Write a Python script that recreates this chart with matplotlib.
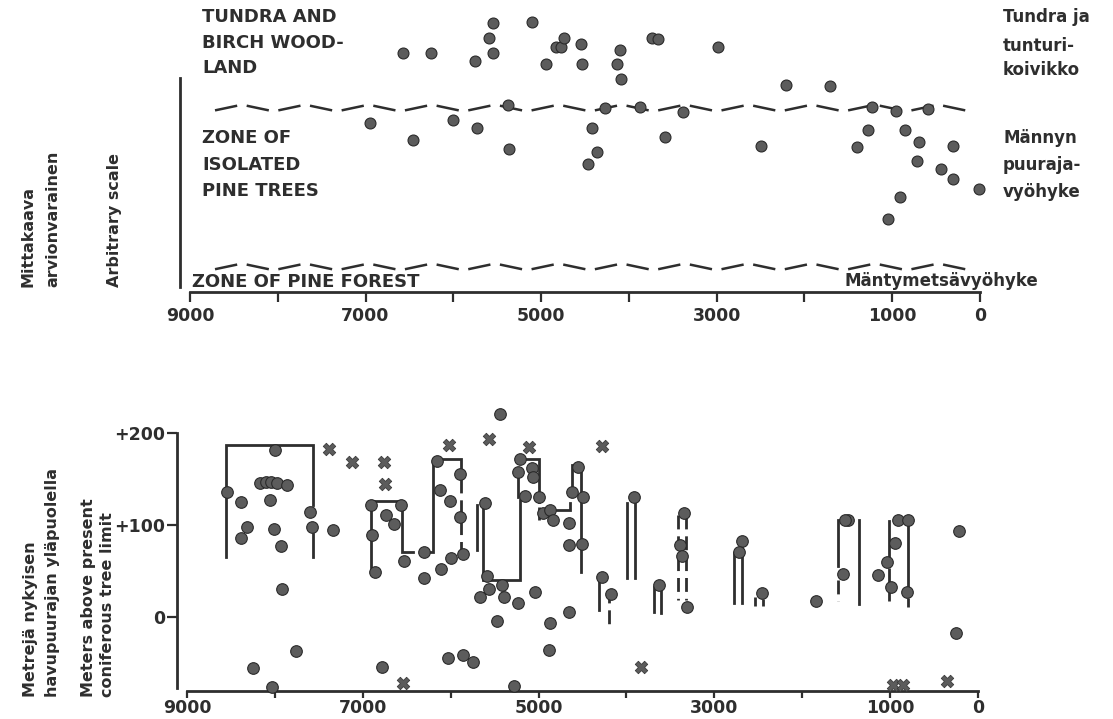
import matplotlib.pyplot as plt

W, H = 1113, 719

# ---- upper panel: samples placed on an arbitrary vegetation scale (0-100)
tundra_years = [6570, 6255, 5755, 5550, 5595, 5550, 5105, 4945, 4830, 4775, 4740,
                4545, 4535, 4100, 4135, 4090, 3735, 3670, 2985, 2210, 1710]
tundra_level = [82, 82, 79, 92, 87, 82, 92.5, 78, 84, 84, 87,
                85, 78, 83, 78, 73, 87, 86.5, 84, 71, 70.5]
pine_years = [6950, 6460, 6005, 5730, 5375, 5365, 4270, 3875, 3385, 4420, 4365,
              4465, 3590, 2495, 1230, 955, 595, 1275, 855, 1400, 695, 310,
              720, 445, 310, 910, 1050, 10]
pine_level = [58, 52, 59, 56, 64, 49, 63, 63.5, 61.5, 56, 48,
              44, 53, 50, 63.5, 62, 62.7, 55.5, 55.5, 49.7, 51.4, 50,
              45, 42, 38.7, 32.5, 25, 35.3]
zone_limits = [63, 8.6]

# ---- lower panel: metres above present coniferous tree limit
dot_years = [8550, 8390, 8315, 8380, 8245, 8170, 8100, 8045, 7975, 7865, 8000,
             8055, 8010, 7935, 7915, 8030, 7765, 7595, 7580, 7335, 6910, 6900,
             6860, 6785, 6740, 6645, 6565, 6530, 6305, 6305, 6160, 6120, 6010,
             5895, 5895, 6110, 5995, 5855, 6035, 5855, 5750, 5440, 5610, 5590,
             5560, 5665, 5420, 5395, 5230, 5040, 5475, 5285, 5210, 5230, 5080,
             5065, 5155, 4995, 4945, 4870, 4830, 4870, 4655, 4880, 4555, 4625,
             4500, 4650, 4650, 4510, 4275, 4175, 3910, 3630, 3345, 3390, 3370,
             3315, 2690, 2725, 2455, 1845, 1475, 1510, 1535, 1135, 1040, 945,
             990, 905, 795, 810, 215, 250]
dot_height = [136, 125, 98, 86, -55, 146, 147, 147, 146, 144, 182,
              127, 96, 77, 30, -76, -37, 114, 98, 95, 122, 89,
              49, -54, 111, 101, 122, 61, 42, 71, 170, 138, 126,
              156, 109, 52, 64, 69, -45, -41, -49, 221, 124, 45,
              31, 22, 35, 22, 15, 27, -4, -75, 172, 158, 162,
              152, 132, 130, 113, 116, 106, -7, 6, -36, 163, 136,
              131, 102, 78, 79, 44, 25, 131, 35, 113, 78, 66,
              11, 83, 71, 26, 17, 105, 105, 47, 46, 60, 81,
              33, 105, 105, 27, 93, -17]
cross_years = [7385, 7120, 6760, 6745, 6540, 6015, 5560, 5110, 4275, 3840, 965, 850, 355]
cross_height = [183, 168, 168, 145, -72, 187, 194, 185, 186, -54, -74, -74, -70]

solid_lines = [
    [(8555, 65), (8555, 187), (7570, 187), (7570, 122)],
    [(7570, 90), (7570, 65)],
    [(6910, 54), (6910, 126), (6557, 126), (6557, 71), (6432, 71)],
    [(6330, 71), (6198, 71), (6198, 172), (5886, 172), (5886, 160)],
    [(5705, 122), (5705, 73)],
    [(5630, 124), (5630, 40), (5215, 40), (5215, 127)],
    [(5230, 152), (5230, 131)],
    [(5210, 172), (4990, 172), (4990, 125)],
    [(4795, 116), (4640, 116), (4640, 124)],
    [(4623, 136), (4623, 165), (4520, 165), (4520, 49)],
    [(4312, 42), (4312, 8)],
    [(3990, 124), (3990, 42)],
    [(3905, 124), (3905, 42)],
    [(3687, 6), (3687, 33), (3610, 33), (3610, 4)],
    [(2773, 70), (2773, 15)],
    [(2682, 80), (2682, 15)],
    [(1590, 55), (1590, 105), (1500, 105)],
    [(1350, 105), (1350, 14)],
    [(1010, 104), (1010, 66)],
    [(795, 105), (795, 33)],
]
dashed_lines = [
    [(5886, 150), (5886, 70)],
    [(4990, 120), (4990, 106)],
    [(4195, 30), (4195, -8)],
    [(3417, 111), (3417, 18)],
    [(3322, 111), (3322, 18)],
    [(2537, 22), (2537, 12)],
    [(2450, 20), (2450, 12)],
    [(1590, 40), (1590, 17)],
    [(1010, 53), (1010, 17)],
    [(795, 21), (795, 11)],
]

year_ticks = [9000, 8000, 7000, 6000, 5000, 4000, 3000, 2000, 1000, 0]
year_labels = ['9000', '', '7000', '', '5000', '', '3000', '', '1000', '0']
height_ticks = [200, 100, 0]
height_labels = ['+200', '+100', '0']

ink = '#2e2e2e'
dot_face = '#5c5c5c'
plt.rcParams['font.family'] = 'DejaVu Sans'
plt.rcParams['font.weight'] = 'bold'

fig = plt.figure(figsize=(W / 100, H / 100), dpi=100)


def ftext(x, y, s, **kw):
    fig.text(x / W, 1 - y / H, s, color=ink, fontweight='bold', **kw)


def style_axis(ax, tick_len, tick_pad):
    for side in ['top', 'right']:
        ax.spines[side].set_visible(False)
    for side in ['bottom', 'left']:
        ax.spines[side].set_linewidth(2)
        ax.spines[side].set_color(ink)
    ax.set_xlim(9000, 0)
    ax.set_xticks(year_ticks)
    ax.set_xticklabels(year_labels)
    ax.tick_params(axis='x', length=tick_len, width=1.6, color=ink, pad=tick_pad,
                   labelsize=12.5, labelcolor=ink)
    ax.set_facecolor('none')


# ---------------- upper panel ----------------
ax1 = fig.add_axes([190 / W, 1 - 292 / H, 790 / W, 292 / H])
style_axis(ax1, 7, 4)
ax1.set_ylim(0, 100)
ax1.set_yticks([])
ax1.spines['left'].set_position(('outward', 7))
ax1.spines['left'].set_bounds(1.7, 73.3)

# zig-zag dashed zone limits
for level in zone_limits:
    start, end, n = 8715, 60, 24
    step = (start - end) / n
    for i in range(n):
        x0 = start - i * step
        x1 = x0 - 0.7 * step
        s = 1 if i % 2 == 0 else -1
        ax1.plot([x0, x1], [level - 0.8 * s, level + 0.8 * s], color=ink, lw=1.8,
                 solid_capstyle='butt')

ax1.scatter(tundra_years, tundra_level, s=62, c=dot_face, edgecolors='#2a2a2a',
            linewidths=0.8, zorder=3, clip_on=False)
ax1.scatter(pine_years, pine_level, s=62, c=dot_face, edgecolors='#2a2a2a',
            linewidths=0.8, zorder=3, clip_on=False)

for txt, y in zip(['TUNDRA AND', 'BIRCH WOOD-', 'LAND'], [17, 43, 68]):
    ftext(202, y, txt, fontsize=13, va='center')
for txt, y in zip(['ZONE OF', 'ISOLATED', 'PINE TREES'], [138, 165, 191]):
    ftext(202, y, txt, fontsize=13, va='center')
ftext(192, 282, 'ZONE OF PINE FOREST', fontsize=13, va='center')
for txt, y in zip(['Tundra ja', 'tunturi-', 'koivikko'], [17, 46, 70]):
    ftext(1003, y, txt, fontsize=12, va='center')
for txt, y in zip(['Männyn', 'puuraja-', 'vyöhyke'], [138, 165, 192]):
    ftext(1003, y, txt, fontsize=12, va='center')
ftext(845, 281, 'Mäntymetsävyöhyke', fontsize=12, va='center')

rot = dict(rotation=90, rotation_mode='anchor', ha='left', va='center', fontsize=11.5)
ftext(28, 287, 'Mittakaava', **rot)
ftext(53, 287, 'arvionvarainen', **rot)
ftext(114, 287, 'Arbitrary scale', **rot)

# ---------------- lower panel ----------------
ax2 = fig.add_axes([187 / W, 1 - 691 / H, 791 / W, 291 / H])
style_axis(ax2, 5, 1)
ax2.set_ylim(-80.4, 235.9)
ax2.set_yticks(height_ticks)
ax2.set_yticklabels(height_labels)
ax2.tick_params(axis='y', length=7, width=1.6, color=ink, pad=2,
                labelsize=12.5, labelcolor=ink)
ax2.spines['left'].set_position(('outward', 7))
ax2.spines['left'].set_bounds(-77, 200)

for line in solid_lines:
    xs, ys = zip(*line)
    ax2.plot(xs, ys, color=ink, lw=2, solid_joinstyle='miter', zorder=2)
for line in dashed_lines:
    xs, ys = zip(*line)
    ax2.plot(xs, ys, color=ink, lw=2, dashes=(5, 2.5), zorder=2)

ax2.scatter(dot_years, dot_height, s=70, c=dot_face, edgecolors='#2a2a2a',
            linewidths=0.8, zorder=3, clip_on=False)
ax2.scatter(cross_years, cross_height, s=80, marker='X', c=dot_face,
            edgecolors='#3a3a3a', linewidths=0.6, zorder=3, clip_on=False)

ftext(30, 697, 'Metrejä nykyisen', **rot)
ftext(52, 697, 'havupuurajan yläpuolella', **rot)
ftext(88, 697, 'Meters above present', **rot)
ftext(108, 697, 'coniferous tree limit', **rot)

fig.savefig('out.png', dpi=100, facecolor='white')
